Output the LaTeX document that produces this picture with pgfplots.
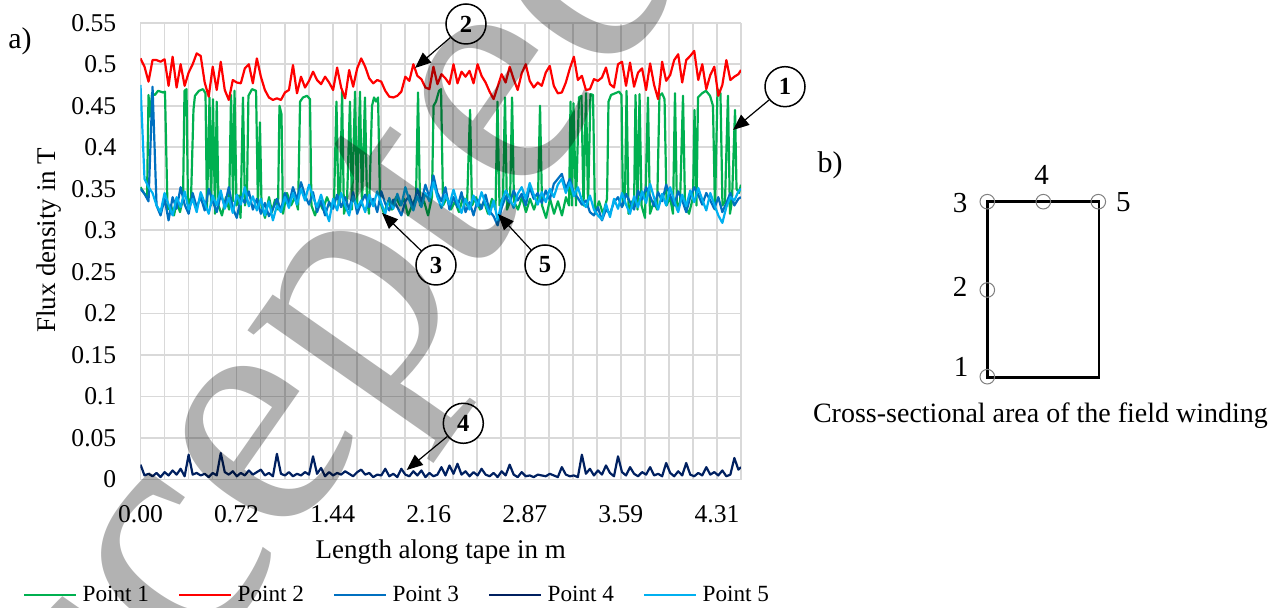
\documentclass[border=0pt]{standalone}
\usepackage{fontspec}
\setmainfont{Liberation Serif}
\usepackage{pgfplots}
\usepackage{pgfplotstable}
\pgfplotsset{compat=1.18}
\usetikzlibrary{arrows.meta}
\definecolor{cgreen}{HTML}{00B050}
\definecolor{cred}{HTML}{FF0000}
\definecolor{cblue}{HTML}{0070C0}
\definecolor{cnavy}{HTML}{002060}
\definecolor{clight}{HTML}{00B0F0}
\definecolor{gridgray}{HTML}{D9D9D9}

\pgfplotstableread{
x p2 p3 p4 p5
0.00 0.507 0.350 0.018 0.475
0.03 0.497 0.344 0.005 0.362
0.06 0.479 0.335 0.007 0.352
0.09 0.505 0.473 0.004 0.345
0.12 0.505 0.330 0.008 0.330
0.15 0.503 0.318 0.003 0.322
0.18 0.506 0.338 0.009 0.345
0.21 0.474 0.312 0.005 0.331
0.24 0.509 0.340 0.011 0.318
0.27 0.472 0.326 0.006 0.340
0.30 0.500 0.352 0.013 0.328
0.33 0.474 0.331 0.004 0.347
0.36 0.490 0.320 0.030 0.325
0.39 0.500 0.345 0.006 0.338
0.42 0.513 0.328 0.008 0.322
0.45 0.510 0.340 0.005 0.346
0.48 0.478 0.324 0.007 0.333
0.51 0.461 0.350 0.003 0.320
0.54 0.497 0.335 0.008 0.342
0.57 0.469 0.322 0.005 0.330
0.60 0.503 0.343 0.032 0.348
0.63 0.469 0.330 0.009 0.326
0.66 0.457 0.352 0.006 0.339
0.69 0.481 0.327 0.010 0.321
0.72 0.478 0.315 0.004 0.343
0.75 0.477 0.340 0.008 0.331
0.78 0.495 0.333 0.005 0.352
0.81 0.500 0.347 0.011 0.329
0.84 0.477 0.325 0.006 0.341
0.87 0.507 0.338 0.009 0.324
0.90 0.485 0.320 0.012 0.338
0.93 0.469 0.333 0.005 0.318
0.96 0.460 0.317 0.008 0.335
0.99 0.457 0.326 0.004 0.312
1.02 0.459 0.338 0.031 0.330
1.05 0.457 0.324 0.007 0.322
1.08 0.466 0.345 0.005 0.340
1.11 0.469 0.332 0.009 0.327
1.14 0.499 0.352 0.004 0.345
1.17 0.465 0.337 0.007 0.331
1.20 0.485 0.358 0.005 0.350
1.23 0.472 0.342 0.009 0.336
1.26 0.480 0.331 0.006 0.355
1.29 0.491 0.346 0.028 0.340
1.32 0.481 0.322 0.007 0.328
1.35 0.476 0.336 0.014 0.343
1.38 0.485 0.318 0.004 0.326
1.41 0.478 0.334 0.009 0.311
1.44 0.469 0.326 0.005 0.338
1.47 0.496 0.343 0.008 0.324
1.50 0.472 0.328 0.006 0.345
1.53 0.459 0.340 0.010 0.330
1.56 0.493 0.325 0.007 0.318
1.59 0.473 0.346 0.004 0.341
1.62 0.495 0.320 0.009 0.327
1.65 0.507 0.333 0.012 0.336
1.68 0.497 0.343 0.006 0.322
1.71 0.483 0.328 0.008 0.343
1.74 0.477 0.338 0.003 0.329
1.77 0.481 0.322 0.006 0.347
1.80 0.479 0.347 0.005 0.333
1.83 0.468 0.332 0.013 0.320
1.86 0.461 0.324 0.004 0.339
1.89 0.460 0.337 0.007 0.326
1.92 0.462 0.328 0.003 0.344
1.95 0.467 0.318 0.013 0.330
1.98 0.485 0.335 0.006 0.352
2.01 0.480 0.342 0.004 0.336
2.04 0.500 0.328 0.010 0.324
2.07 0.486 0.350 0.005 0.341
2.10 0.482 0.334 0.011 0.328
2.13 0.472 0.355 0.003 0.345
2.16 0.470 0.340 0.008 0.335
2.19 0.497 0.366 0.004 0.358
2.22 0.476 0.345 0.006 0.340
2.25 0.488 0.335 0.015 0.327
2.28 0.483 0.352 0.005 0.343
2.31 0.476 0.325 0.017 0.331
2.34 0.500 0.340 0.007 0.349
2.37 0.477 0.328 0.019 0.333
2.40 0.491 0.346 0.006 0.321
2.43 0.485 0.322 0.010 0.338
2.46 0.492 0.334 0.004 0.325
2.49 0.477 0.318 0.009 0.342
2.52 0.500 0.337 0.005 0.329
2.55 0.486 0.326 0.013 0.346
2.58 0.478 0.343 0.006 0.332
2.61 0.467 0.323 0.004 0.319
2.64 0.458 0.317 0.008 0.336
2.67 0.473 0.306 0.003 0.312
2.70 0.488 0.327 0.010 0.334
2.73 0.478 0.341 0.005 0.348
2.76 0.497 0.333 0.018 0.339
2.79 0.482 0.348 0.006 0.327
2.82 0.469 0.336 0.003 0.344
2.85 0.489 0.344 0.009 0.352
2.88 0.500 0.330 0.004 0.338
2.91 0.480 0.352 0.005 0.357
2.94 0.472 0.338 0.003 0.343
2.97 0.478 0.345 0.006 0.331
3.00 0.474 0.333 0.005 0.346
3.03 0.490 0.348 0.004 0.334
3.06 0.498 0.337 0.007 0.350
3.09 0.474 0.356 0.005 0.340
3.12 0.465 0.362 0.003 0.355
3.15 0.466 0.368 0.015 0.362
3.18 0.478 0.350 0.006 0.345
3.21 0.495 0.362 0.004 0.358
3.24 0.509 0.345 0.005 0.341
3.27 0.481 0.339 0.003 0.352
3.30 0.486 0.331 0.030 0.336
3.33 0.469 0.336 0.007 0.328
3.36 0.470 0.322 0.013 0.342
3.39 0.482 0.318 0.005 0.325
3.42 0.480 0.328 0.011 0.318
3.45 0.484 0.312 0.006 0.313
3.48 0.496 0.325 0.017 0.332
3.51 0.476 0.320 0.008 0.316
3.54 0.472 0.334 0.004 0.338
3.57 0.500 0.340 0.028 0.326
3.60 0.503 0.328 0.009 0.345
3.63 0.474 0.344 0.005 0.331
3.66 0.502 0.334 0.015 0.320
3.69 0.473 0.325 0.007 0.341
3.72 0.490 0.348 0.004 0.328
3.75 0.495 0.337 0.009 0.347
3.78 0.469 0.352 0.006 0.333
3.81 0.501 0.341 0.015 0.356
3.84 0.475 0.329 0.005 0.339
3.87 0.458 0.346 0.007 0.325
3.90 0.503 0.335 0.004 0.344
3.93 0.480 0.355 0.020 0.330
3.96 0.487 0.342 0.008 0.352
3.99 0.505 0.330 0.004 0.336
4.02 0.512 0.347 0.010 0.322
4.05 0.478 0.336 0.005 0.343
4.08 0.505 0.322 0.020 0.329
4.11 0.510 0.340 0.006 0.348
4.14 0.516 0.352 0.004 0.334
4.17 0.481 0.343 0.008 0.351
4.20 0.500 0.331 0.005 0.337
4.23 0.470 0.345 0.015 0.324
4.26 0.487 0.336 0.006 0.345
4.29 0.497 0.326 0.009 0.331
4.32 0.462 0.340 0.005 0.318
4.35 0.475 0.322 0.011 0.309
4.38 0.505 0.333 0.004 0.328
4.41 0.481 0.345 0.006 0.340
4.44 0.485 0.330 0.026 0.336
4.47 0.488 0.338 0.012 0.347
4.4895 0.493 0.340 0.015 0.350
}\datatable

\begin{document}
\begin{tikzpicture}
\path[use as bounding box] (0pt,0pt) rectangle (641pt,-304pt);
\begin{axis}[
  at={(70.25pt,-239.8pt)}, anchor=south west,
  scale only axis, width=300.25pt, height=228.45pt,
  xmin=0, xmax=4.4895, ymin=0, ymax=0.55,
  xtick={0,0.17958,0.35916,0.53874,0.71832,0.8979,1.07748,1.25706,1.43664,1.61622,1.7958,1.97538,2.15496,2.33454,2.51412,2.6937,2.87328,3.05286,3.23244,3.41202,3.5916,3.77118,3.95076,4.13034,4.30992,4.4895},
  xticklabels={0.00,,,,0.72,,,,1.44,,,,2.16,,,,2.87,,,,3.59,,,,4.31,},
  ytick={0,0.05,0.1,0.15,0.2,0.25,0.3,0.35,0.4,0.45,0.5,0.55},
  yticklabels={0,0.05,0.1,0.15,0.2,0.25,0.3,0.35,0.4,0.45,0.5,0.55},
  grid=major, grid style={color=gridgray, line width=0.9pt},
  axis line style={draw=none}, major tick length=0pt,
  xticklabel style={font=\fontsize{12.8}{14}\selectfont, inner sep=0pt, anchor=north, yshift=-12.7pt},
  yticklabel style={font=\fontsize{12.8}{14}\selectfont, inner sep=0pt, anchor=east, xshift=-11.9pt},
  xlabel={Length along tape in m},
  ylabel={Flux density in T},
  xlabel style={at={(axis description cs:0.5,-0.158)}, anchor=center, font=\fontsize{13.5}{16}\selectfont},
  ylabel style={at={(axis description cs:-0.153,0.524)}, anchor=center, font=\fontsize{13.5}{16}\selectfont},
  legend columns=5,
  legend image code/.code={\draw[#1, line width=1.3pt] (0pt,0pt) -- (26pt,0pt);},
  legend style={at={(axis description cs:-0.1962,-0.2526)}, anchor=west, draw=none, fill=none,
    inner sep=0pt, font=\fontsize{11.6}{13}\selectfont, nodes={inner sep=0pt},
    /tikz/every even column/.append style={column sep=14.5pt},
    /tikz/every odd column/.append style={column sep=2.5pt}},
  every axis plot/.append style={line width=1.1pt, line join=round},
]
\addplot[cgreen] coordinates {
(0.000,0.352)(0.026,0.345)(0.049,0.340)(0.060,0.463)(0.071,0.437)(0.086,0.465)(0.108,0.463)(0.131,0.468)(0.168,0.466)(0.183,0.467)
(0.202,0.325)(0.228,0.330)(0.250,0.318)(0.273,0.335)(0.295,0.322)(0.318,0.338)(0.329,0.468)(0.344,0.470)(0.355,0.330)(0.378,0.340)
(0.396,0.445)(0.407,0.462)(0.437,0.468)(0.467,0.470)(0.486,0.465)(0.497,0.325)(0.516,0.460)(0.527,0.330)(0.542,0.458)(0.557,0.320)
(0.570,0.455)(0.583,0.330)(0.609,0.318)(0.639,0.340)(0.662,0.325)(0.677,0.463)(0.692,0.335)(0.703,0.468)(0.718,0.330)(0.736,0.342)
(0.748,0.315)(0.766,0.460)(0.781,0.330)(0.796,0.345)(0.807,0.462)(0.834,0.470)(0.864,0.468)(0.878,0.330)(0.893,0.430)(0.905,0.330)
(0.931,0.315)(0.961,0.340)(0.983,0.322)(1.006,0.337)(1.028,0.325)(1.039,0.450)(1.054,0.440)(1.065,0.320)(1.095,0.345)(1.125,0.330)
(1.155,0.340)(1.178,0.325)(1.193,0.455)(1.215,0.460)(1.245,0.462)(1.267,0.458)(1.278,0.330)(1.305,0.318)(1.335,0.335)(1.364,0.325)
(1.394,0.340)(1.424,0.328)(1.447,0.335)(1.465,0.455)(1.480,0.330)(1.492,0.335)(1.507,0.467)(1.521,0.320)(1.544,0.335)(1.566,0.455)
(1.581,0.325)(1.604,0.467)(1.619,0.330)(1.641,0.467)(1.656,0.330)(1.678,0.460)(1.693,0.340)(1.708,0.320)(1.731,0.450)(1.746,0.460)
(1.761,0.455)(1.776,0.460)(1.791,0.335)(1.821,0.320)(1.850,0.335)(1.880,0.325)(1.910,0.340)(1.940,0.330)(1.970,0.338)(2.000,0.318)
(2.030,0.330)(2.060,0.340)(2.075,0.466)(2.090,0.330)(2.120,0.335)(2.150,0.318)(2.179,0.340)(2.191,0.450)(2.209,0.455)(2.232,0.468)
(2.247,0.470)(2.262,0.330)(2.292,0.340)(2.321,0.325)(2.351,0.335)(2.381,0.322)(2.411,0.340)(2.441,0.330)(2.464,0.445)(2.478,0.330)
(2.508,0.340)(2.538,0.325)(2.568,0.335)(2.598,0.320)(2.628,0.338)(2.654,0.325)(2.669,0.455)(2.684,0.330)(2.710,0.340)(2.725,0.460)
(2.740,0.325)(2.763,0.335)(2.778,0.460)(2.792,0.335)(2.822,0.325)(2.852,0.340)(2.882,0.322)(2.912,0.338)(2.942,0.325)(2.972,0.340)
(2.987,0.450)(3.002,0.330)(3.032,0.315)(3.062,0.338)(3.092,0.320)(3.121,0.335)(3.151,0.318)(3.181,0.340)(3.204,0.330)(3.215,0.455)
(3.226,0.330)(3.237,0.453)(3.256,0.330)(3.278,0.460)(3.297,0.462)(3.312,0.330)(3.331,0.465)(3.346,0.330)(3.364,0.464)(3.383,0.463)
(3.398,0.320)(3.428,0.335)(3.458,0.320)(3.488,0.338)(3.499,0.455)(3.518,0.463)(3.548,0.465)(3.578,0.467)(3.596,0.463)(3.607,0.330)
(3.622,0.340)(3.634,0.468)(3.649,0.320)(3.675,0.335)(3.690,0.330)(3.701,0.463)(3.716,0.325)(3.731,0.464)(3.746,0.330)(3.772,0.315)
(3.794,0.460)(3.809,0.320)(3.839,0.335)(3.862,0.325)(3.880,0.462)(3.899,0.465)(3.918,0.458)(3.933,0.330)(3.959,0.340)(3.981,0.320)
(3.996,0.465)(4.011,0.325)(4.034,0.335)(4.056,0.462)(4.071,0.330)(4.101,0.320)(4.131,0.340)(4.142,0.445)(4.157,0.330)(4.168,0.460)
(4.198,0.465)(4.228,0.468)(4.258,0.462)(4.280,0.450)(4.295,0.325)(4.314,0.470)(4.336,0.465)(4.351,0.330)(4.370,0.335)(4.392,0.462)
(4.407,0.320)(4.422,0.335)(4.445,0.445)(4.456,0.350)(4.475,0.345)(4.4895,0.355)
};
\addlegendentry{Point 1}
\addplot[cred] table[x=x,y=p2] {\datatable};
\addlegendentry{Point 2}
\addplot[cblue] table[x=x,y=p3] {\datatable};
\addlegendentry{Point 3}
\addplot[cnavy] table[x=x,y=p4] {\datatable};
\addlegendentry{Point 4}
\addplot[clight] table[x=x,y=p5] {\datatable};
\addlegendentry{Point 5}
\end{axis}

% panel labels
\node[font=\fontsize{15}{17}\selectfont] at (10pt,-20.5pt) {a)};
\node[font=\fontsize{15}{17}\selectfont] at (415pt,-82.5pt) {b)};

% callouts
\tikzset{callout/.style={circle, draw=black, fill=white, line width=0.75pt, minimum size=20pt, inner sep=0pt, font=\fontsize{12.3}{14}\selectfont\bfseries},
         carrow/.style={line width=0.6pt, -{Triangle[length=8pt,width=6.5pt]}}}
\node[callout] (c2) at (233pt,-12pt) {2};
\draw[carrow] (c2) -- (207.5pt,-34pt);
\node[callout] (c1) at (392.5pt,-43.35pt) {1};
\draw[carrow] (c1) -- (366.5pt,-65pt);
\node[callout] (c3) at (218pt,-132.5pt) {3};
\draw[carrow] (c3) -- (191pt,-106.5pt);
\node[callout] (c5) at (272.5pt,-132.5pt) {5};
\draw[carrow] (c5) -- (249pt,-107pt);
\node[callout] (c4) at (231.65pt,-211.65pt) {4};
\draw[carrow] (c4) -- (203.35pt,-235pt);

% b) cross-section
\draw[line width=1.35pt] (493.65pt,-100.85pt) rectangle (549.5pt,-188.85pt);
\foreach \cx/\cy in {493.65/-100.85, 521.65/-100.85, 549.15/-100.85, 493.65/-145, 493.65/-188.35}
  \draw[gray, line width=0.5pt] (\cx pt,\cy pt) circle (3.65pt);
\begin{scope}[every node/.style={font=\fontsize{14.5}{16}\selectfont, inner sep=0pt}]
\node at (480pt,-101.65pt) {3};
\node at (520.85pt,-87.5pt) {4};
\node at (561.65pt,-100.85pt) {5};
\node at (480pt,-143.35pt) {2};
\node at (480.5pt,-183.35pt) {1};
\end{scope}
\node[anchor=base, font=\fontsize{14}{16}\selectfont, inner sep=0pt] at (520.25pt,-211.5pt) {Cross-sectional area of the field winding};

% watermark
\node[rotate=55, anchor=base west, inner sep=0pt, text=black, opacity=0.3, font=\fontsize{170}{170}\selectfont] at (-14.75pt,-499.5pt) {Accepted Manuscript};
\end{tikzpicture}
\end{document}
